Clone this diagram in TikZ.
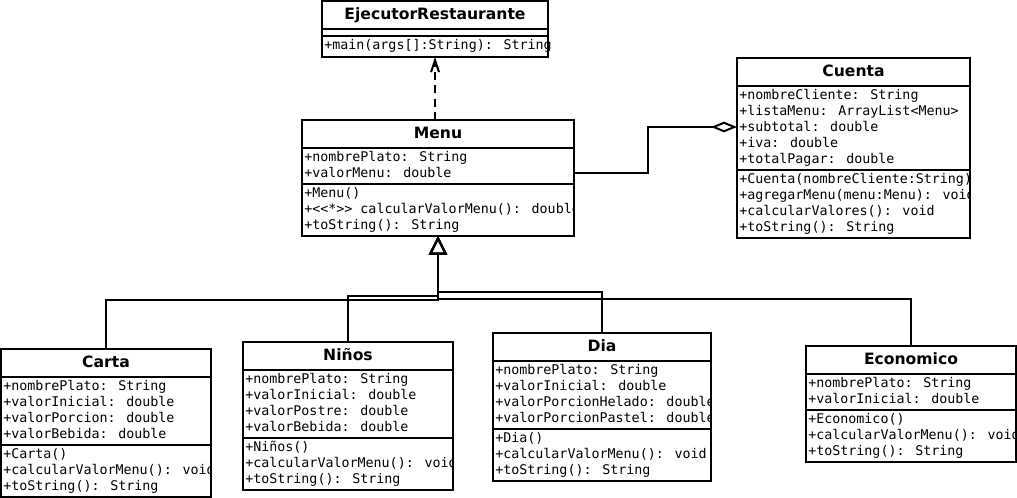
\documentclass[tikz,border=0pt]{standalone}
\usepackage{fontspec}
\setmainfont{DejaVu Sans}
\newfontfamily\umlmono{DejaVu Sans Mono}
\usetikzlibrary{arrows.meta}
\newcommand{\pxl}{0.75pt}

\begin{document}
\begin{tikzpicture}[x=0.75pt, y=-0.75pt,
  classbox/.style={draw, line width=1.5pt, anchor=north west, inner sep=0pt, outer sep=0pt},
  classname/.style={font=\bfseries\fontsize{11.7}{14}\selectfont, anchor=base, inner sep=0pt},
  members/.style={font=\umlmono\fontsize{10}{12}\selectfont, align=left, anchor=north west, inner sep=0pt},
  divider/.style={line width=1.5pt},
  inherit/.style={line width=1.5pt, -{Triangle[open, length=14pt, width=13.5pt]}},
  depend/.style={line width=1.5pt, dash pattern=on 6pt off 4pt, -{Straight Barb[length=9pt, width=6pt]}},
  aggreg/.style={line width=1.5pt, -{Diamond[open, length=19.5pt, width=8pt]}}
]
\useasboundingbox (0,0) rectangle (1017,498);

% EjecutorRestaurante
\node[classbox, minimum width=226*\pxl, minimum height=56*\pxl] (ejecutor) at (322,1) {};
\node[classname] (ejecutorname) at (435,20) {EjecutorRestaurante};
\draw[divider] (322,29) -- (548,29);
\draw[divider] (322,36) -- (548,36);
\node[members] (ejecutorops) at (324,39) {+main(args[]:String): String};

% Menu
\node[classbox, minimum width=272*\pxl, minimum height=116*\pxl] (menu) at (302,120) {};
\node[classname] (menuname) at (438,139) {Menu};
\draw[divider] (302,148) -- (574,148);
\draw[divider] (302,184) -- (574,184);
\begin{scope}
  \clip (302,120) rectangle (574,236);
  \node[members] (menuattr) at (304,151) {+nombrePlato: String\\+valorMenu: double};
  \node[members] (menuops) at (304,187) {+Menu()\\+<<*>> calcularValorMenu(): double\\+toString(): String};
\end{scope}

% Cuenta
\node[classbox, minimum width=233*\pxl, minimum height=180*\pxl] (cuenta) at (737,58) {};
\node[classname] (cuentaname) at (853.5,77) {Cuenta};
\draw[divider] (737,86) -- (970,86);
\draw[divider] (737,170) -- (970,170);
\begin{scope}
  \clip (737,58) rectangle (970,238);
  \node[members] (cuentaattr) at (739,89) {+nombreCliente: String\\+listaMenu: ArrayList<Menu>\\+subtotal: double\\+iva: double\\+totalPagar: double};
  \node[members] (cuentaops) at (739,173) {+Cuenta(nombreCliente:String)\\+agregarMenu(menu:Menu): void\\+calcularValores(): void\\+toString(): String};
\end{scope}

% Carta
\node[classbox, minimum width=210*\pxl, minimum height=148*\pxl] (carta) at (1,349) {};
\node[classname] (cartaname) at (106,368) {Carta};
\draw[divider] (1,377) -- (211,377);
\draw[divider] (1,445) -- (211,445);
\begin{scope}
  \clip (1,349) rectangle (211,497);
  \node[members] (cartaattr) at (3,380) {+nombrePlato: String\\+valorInicial: double\\+valorPorcion: double\\+valorBebida: double};
  \node[members] (cartaops) at (3,448) {+Carta()\\+calcularValorMenu(): void\\+toString(): String};
\end{scope}

% Ninos
\node[classbox, minimum width=210*\pxl, minimum height=148*\pxl] (ninos) at (243,342) {};
\node[classname] (ninosname) at (348,361) {Niños};
\draw[divider] (243,370) -- (453,370);
\draw[divider] (243,438) -- (453,438);
\begin{scope}
  \clip (243,342) rectangle (453,490);
  \node[members] (ninosattr) at (245,373) {+nombrePlato: String\\+valorInicial: double\\+valorPostre: double\\+valorBebida: double};
  \node[members] (ninosops) at (245,441) {+Niños()\\+calcularValorMenu(): void\\+toString(): String};
\end{scope}

% Dia
\node[classbox, minimum width=218*\pxl, minimum height=148*\pxl] (dia) at (493,333) {};
\node[classname] (dianame) at (602,352) {Dia};
\draw[divider] (493,361) -- (711,361);
\draw[divider] (493,429) -- (711,429);
\begin{scope}
  \clip (493,333) rectangle (711,481);
  \node[members] (diaattr) at (495,364) {+nombrePlato: String\\+valorInicial: double\\+valorPorcionHelado: double\\+valorPorcionPastel: double};
  \node[members] (diaops) at (495,432) {+Dia()\\+calcularValorMenu(): void\\+toString(): String};
\end{scope}

% Economico
\node[classbox, minimum width=210*\pxl, minimum height=116*\pxl] (economico) at (806,346) {};
\node[classname] (economiconame) at (911,365) {Economico};
\draw[divider] (806,374) -- (1016,374);
\draw[divider] (806,410) -- (1016,410);
\begin{scope}
  \clip (806,346) rectangle (1016,462);
  \node[members] (economicoattr) at (808,377) {+nombrePlato: String\\+valorInicial: double};
  \node[members] (economicoops) at (808,413) {+Economico()\\+calcularValorMenu(): void\\+toString(): String};
\end{scope}

% Abhaengigkeit und Aggregation
\draw[depend] (menu.north -| ejecutor.south) -- (ejecutor.south);
\draw[aggreg] (menu.east |- 0,173) -- (648,173) |- (cuenta.west |- 0,127);

% Vererbung
\draw[inherit] (carta.north) -- ++(0,-49) -| (menu.south);
\draw[inherit] (ninos.north) -- ++(0,-46) -| (menu.south);
\draw[inherit] (dia.north) -- ++(0,-41) -| (menu.south);
\draw[inherit] (economico.north) -- ++(0,-47) -| (menu.south);
\end{tikzpicture}
\end{document}
